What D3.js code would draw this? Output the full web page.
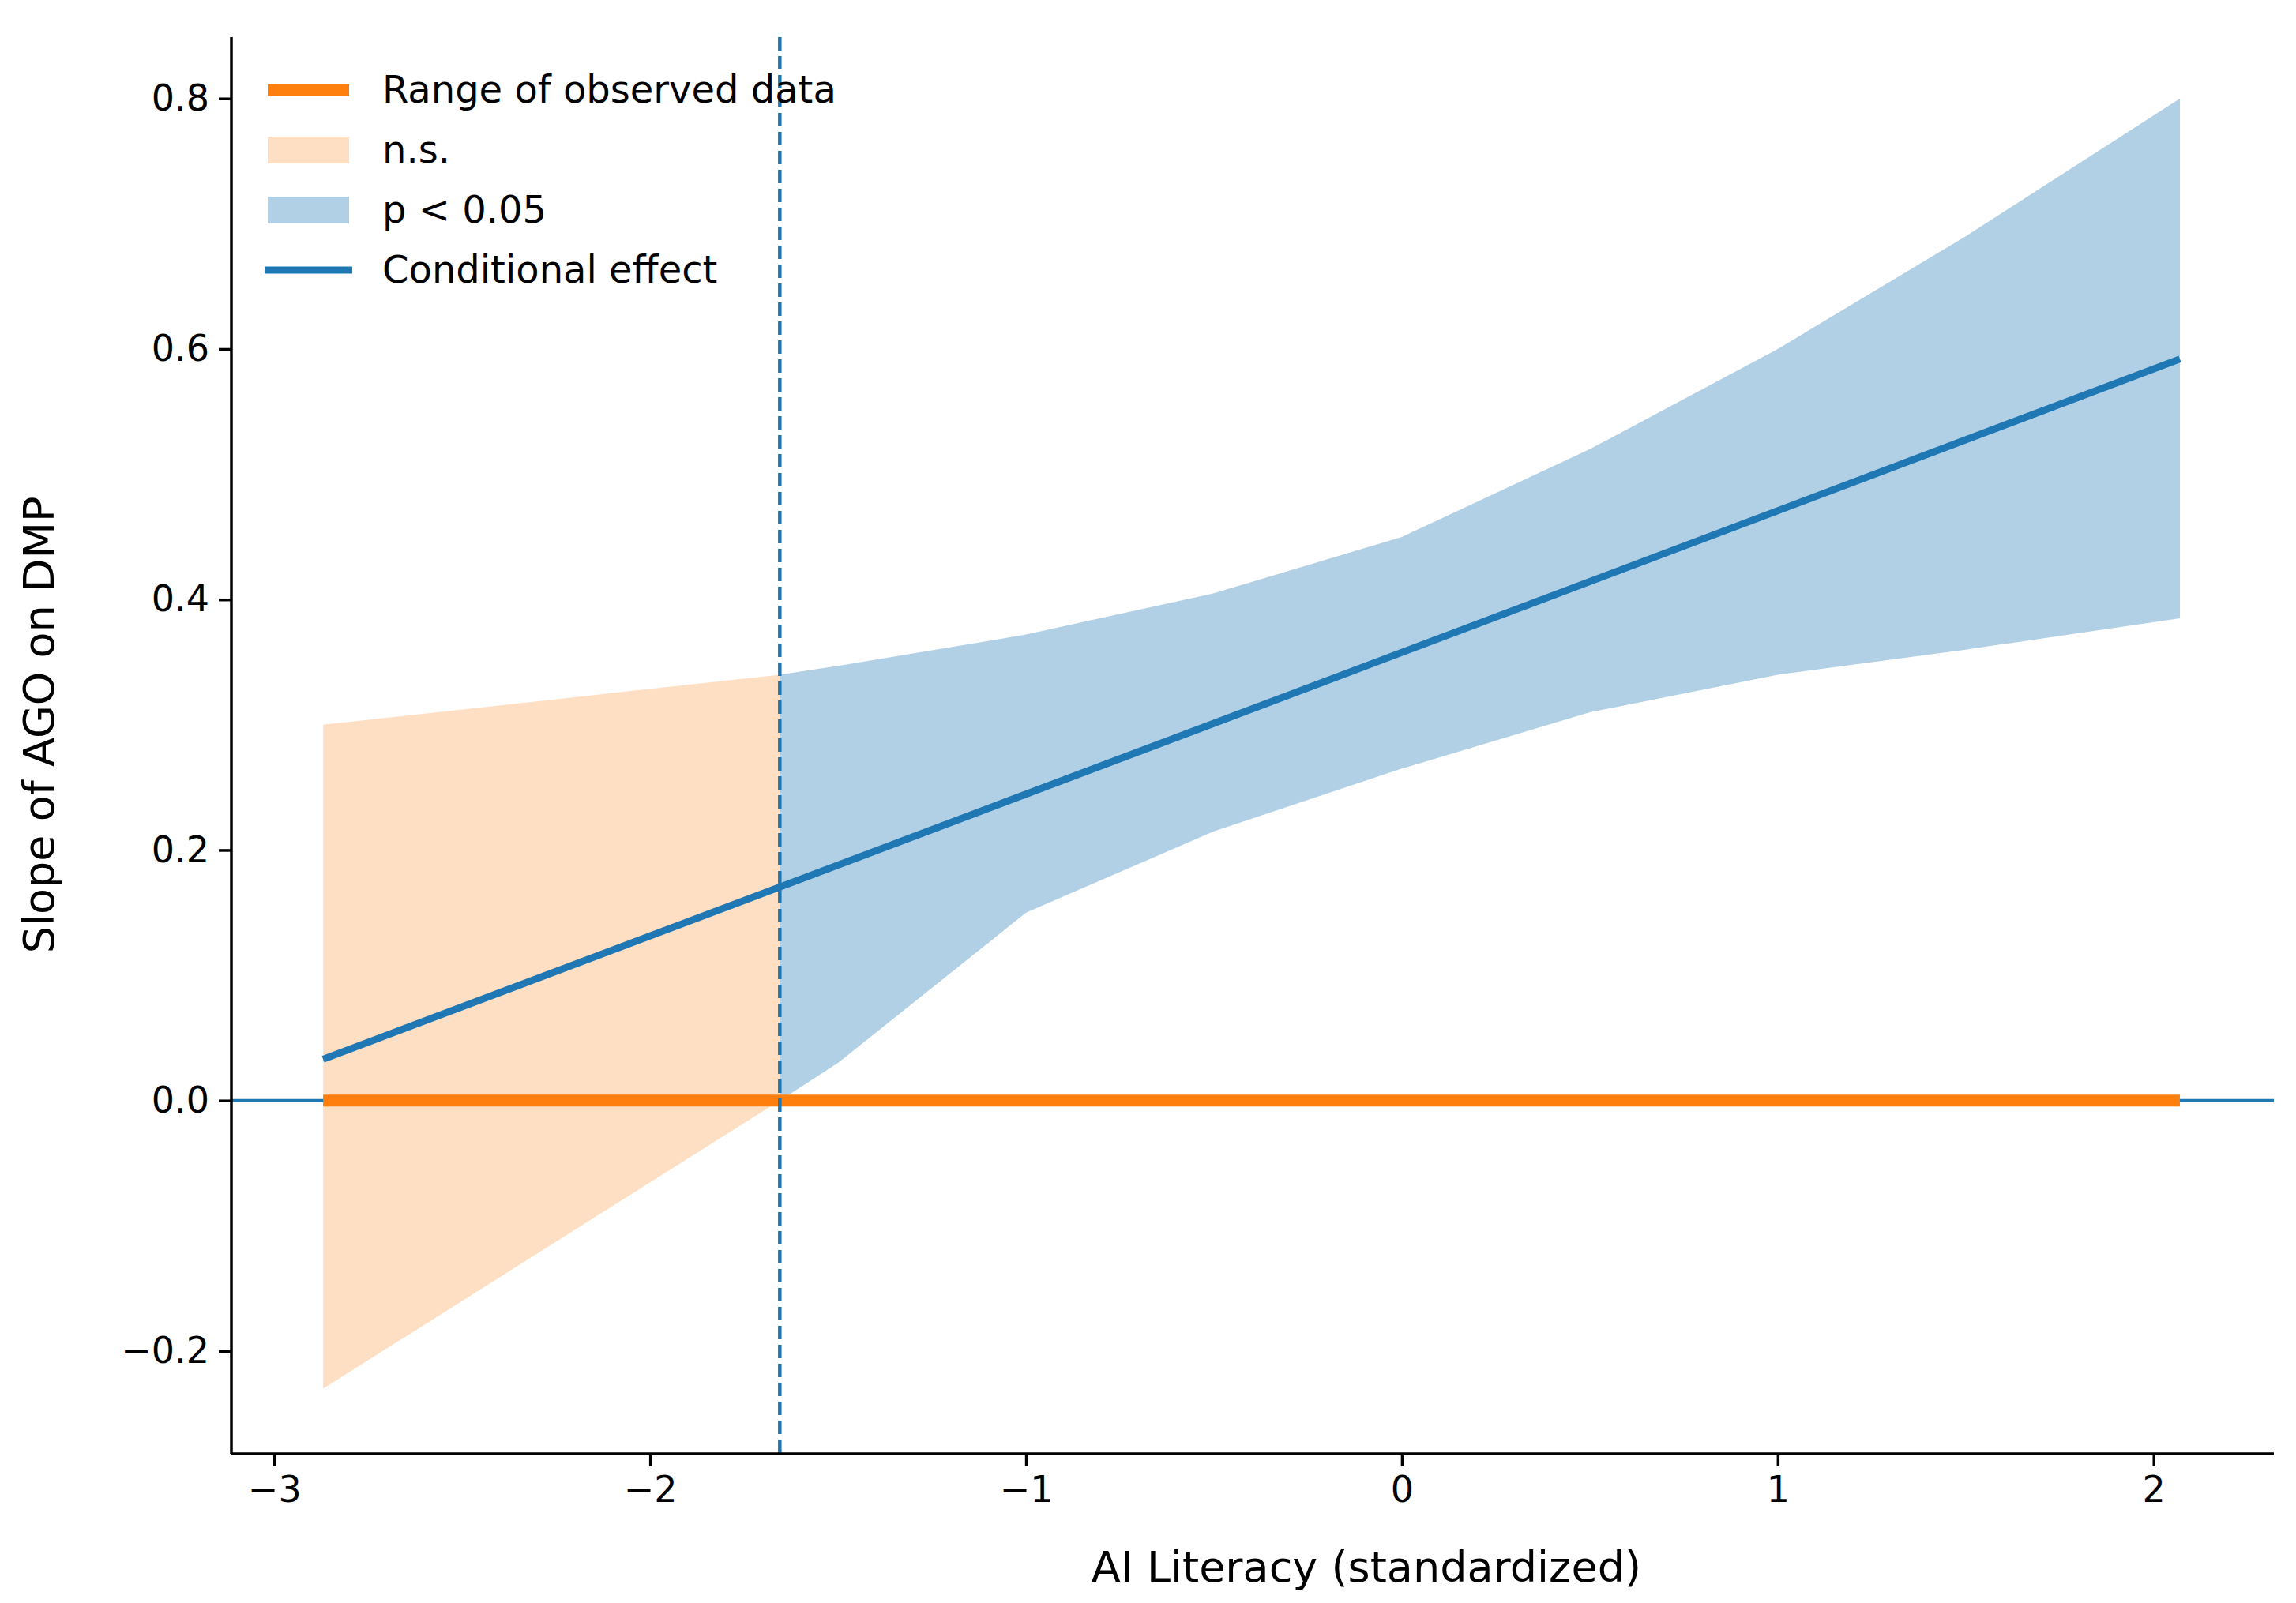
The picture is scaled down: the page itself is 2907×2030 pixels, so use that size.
<!DOCTYPE html>
<html><head><meta charset="utf-8">
<script src="https://cdn.jsdelivr.net/npm/d3@7"></script>
<style>body{margin:0;background:#fff}text{font-family:"DejaVu Sans",sans-serif}</style>
</head><body><div id="chart"></div>
<script>
const WIDTH = 2907, HEIGHT = 2030;
const MARGINS = {left: 293, right: 28, top: 47, bottom: 189};

// data
const X_TICKS = [-3, -2, -1, 0, 1, 2];
const Y_TICKS = [-0.2, 0.0, 0.2, 0.4, 0.6, 0.8];
const X_RANGE = [-2.87, 2.07];
const JN_POINT = -1.655;
const EFFECT_X = [-2.87, 2.07];
const EFFECT_Y = [0.033, 0.592];
const NS_X = [-2.87, -1.655];
const NS_UPPER = [0.30, 0.34];
const NS_LOWER = [-0.23, 0.0];
const SIG_X = [-1.655, -1.5, -1.0, -0.5, 0.0, 0.5, 1.0, 1.5, 2.07];
const SIG_UPPER = [0.34, 0.347, 0.372, 0.405, 0.45, 0.52, 0.60, 0.69, 0.80];
const SIG_LOWER = [0.0, 0.03, 0.15, 0.215, 0.265, 0.31, 0.34, 0.36, 0.385];
const LEGEND = ["Range of observed data", "n.s.", "p < 0.05", "Conditional effect"];

const svg = d3.select("#chart").append("svg").attr("width", WIDTH).attr("height", HEIGHT);
const X = d3.scaleLinear().domain([-3.114, 2.32]).range([MARGINS.left, WIDTH - MARGINS.right]);
const Y = d3.scaleLinear().domain([-0.282, 0.849]).range([HEIGHT - MARGINS.bottom, MARGINS.top]);

const area = d3.area().x(d => X(d[0])).y0(d => Y(d[2])).y1(d => Y(d[1]));
svg.append("path").datum(NS_X.map((x, i) => [x, NS_UPPER[i], NS_LOWER[i]]))
  .attr("d", area).attr("fill", "#ff7f0e").attr("opacity", 0.25);
svg.append("path").datum(SIG_X.map((x, i) => [x, SIG_UPPER[i], SIG_LOWER[i]]))
  .attr("d", area).attr("fill", "#1f77b4").attr("opacity", 0.35);

// zero line
svg.append("line").attr("x1", X.range()[0]).attr("x2", X.range()[1])
  .attr("y1", Y(0)).attr("y2", Y(0)).attr("stroke", "#1f77b4").attr("stroke-width", 4);
// observed range
svg.append("line").attr("x1", X(X_RANGE[0])).attr("x2", X(X_RANGE[1]))
  .attr("y1", Y(0)).attr("y2", Y(0)).attr("stroke", "#ff7f0e").attr("stroke-width", 15);
// effect
svg.append("path").datum(EFFECT_X.map((x, i) => [x, EFFECT_Y[i]]))
  .attr("d", d3.line().x(d => X(d[0])).y(d => Y(d[1])))
  .attr("stroke", "#1f77b4").attr("stroke-width", 9).attr("fill", "none");
// JN line
svg.append("line").attr("x1", X(JN_POINT)).attr("x2", X(JN_POINT))
  .attr("y1", Y.range()[1]).attr("y2", Y.range()[0])
  .attr("stroke", "#1f77b4").attr("stroke-width", 4.5).attr("stroke-dasharray", "17,7");

// axes
const xa = svg.append("g").attr("transform", `translate(0,${HEIGHT - MARGINS.bottom})`)
  .call(d3.axisBottom(X).tickValues(X_TICKS).tickFormat(d => d < 0 ? "\u2212" + (-d) : d).tickSize(16).tickPadding(12));
const ya = svg.append("g").attr("transform", `translate(${MARGINS.left},0)`)
  .call(d3.axisLeft(Y).tickValues(Y_TICKS).tickFormat(d => d < 0 ? "\u2212" + (-d).toFixed(1) : d.toFixed(1)).tickSize(16).tickPadding(12));
[xa, ya].forEach(a => {
  a.selectAll("text").attr("font-size", 46).attr("fill", "#000").style("font-family", "DejaVu Sans");
  a.selectAll("line").attr("stroke-width", 3.5);
  a.select(".domain").attr("stroke-width", 3.5);
});
ya.select(".domain").attr("d", `M0,${Y.range()[0]}V${Y.range()[1]}`);
xa.select(".domain").attr("d", `M${X.range()[0]},0H${X.range()[1]}`);

svg.append("text").attr("x", X(0) - 45).attr("y", 2003).attr("text-anchor", "middle")
  .attr("font-size", 54).text("AI Literacy (standardized)");
svg.append("text").attr("transform", `translate(68,${Y(0.3)}) rotate(-90)`).attr("text-anchor", "middle")
  .attr("font-size", 54).text("Slope of AGO on DMP");

// legend
const lg = svg.append("g");
LEGEND.forEach((t, i) => {
  const y = 114 + i * 76;
  if (i === 0) lg.append("line").attr("x1", 339).attr("x2", 442).attr("y1", y).attr("y2", y).attr("stroke", "#ff7f0e").attr("stroke-width", 15);
  if (i === 1) lg.append("rect").attr("x", 339).attr("y", y - 17).attr("width", 103).attr("height", 34).attr("fill", "#ff7f0e").attr("opacity", 0.25);
  if (i === 2) lg.append("rect").attr("x", 339).attr("y", y - 17).attr("width", 103).attr("height", 34).attr("fill", "#1f77b4").attr("opacity", 0.35);
  if (i === 3) lg.append("line").attr("x1", 335).attr("x2", 446).attr("y1", y).attr("y2", y).attr("stroke", "#1f77b4").attr("stroke-width", 9);
  lg.append("text").attr("x", 484).attr("y", y + 16).attr("font-size", 48).text(t);
});
</script></body></html>
